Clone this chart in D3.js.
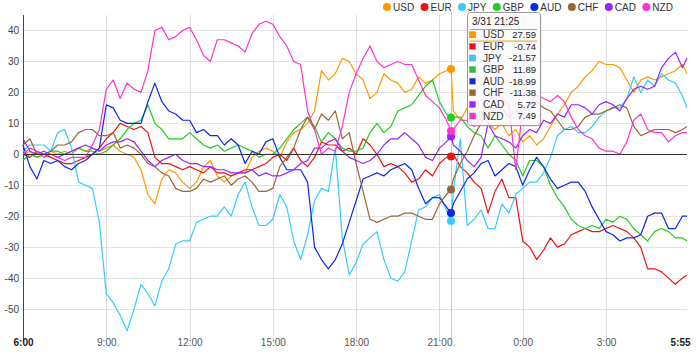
<!DOCTYPE html>
<html><head><meta charset="utf-8">
<script src="https://cdn.jsdelivr.net/npm/d3@7"></script>
<style>
body{margin:0;background:#fff;}
svg{display:block;font-family:"Liberation Sans",Arial,sans-serif;}
</style></head><body>
<svg id="c" width="700" height="356"></svg>
<script>
// ---------- data ----------
const currencies = ["USD","EUR","JPY","GBP","AUD","CHF","CAD","NZD"];
const colors = ["#ff9900","#ee1111","#33ccff","#22cc22","#0a28f0","#996633","#9922ff","#ff33cc"];
// minutes after 3/31 6:00 : every 15 min, plus the hovered 21:25 and the last 5:55
const minutes = [...d3.range(0, 925, 15), 925, ...d3.range(930, 1440, 15), 1435];
const hoverMinute = 925;

const USD = [0,1,-1,0,1,0,1,0,2,1, 2,1,2,3,1,0,-1,-5,-13,-16, -8,-5,-6,-9,-11,-9,-4,-2,-7,-9,
  -7,-6,-6,-1,1,2,1,-1,4,7, 8,10,14,27,24,26,31,30,26,24, 18,20,26,24,23,20,21,25,23,24, 26,27,
  27.59,
  14,11,15,12,14,10,8,10,6,8, 4,6,3,5,9,13,16,20,22,25, 27,30,29,29,28,24,20,24,25,24, 25,26,27,29, 26];
const EUR = [0,-1,1,0,-1,-2,-3,-3,-2,-1, 0,2,5,7,10,9,8,9,7,-1, -3,-3,-4,-5,-4,-5,-6,-4,-6,-6,
  -7,-6,-5,-5,-4,-3,-1,0,-2,2, -2,-4,-1,4,3,3,1,2,0,5, 3,0,-4,-3,-4,-6,-9,-8,-5,-7, -3,-1,
  -0.74,
  0,-4,-6,-9,-11,-19,-12,-8,-14,-14, -28,-30,-34,-31,-27,-30,-29,-26,-25,-24, -25,-25,-24,-23,-24,-25,-27,-30,-37,-37, -38,-40,-42,-40, -39];
const JPY = [1,3,3,3,1,7,8,2,-9,-10, -11,-22,-45,-48,-52,-57,-50,-42,-45,-49, -41,-37,-29,-28,-28,-22,-21,-20,-20,-17,
  -20,-13,-9,-17,-23,-23,-21,-13,-17,-28, -34,-26,-15,-11,-12,2,-27,-39,-35,-29, -27,-25,-34,-40,-41,-38,-28,-18,-17,-14, -13,-18,
  -21.57,
  -12,5,-23,-21,-18,-24,-24,-16,-19,-13, -11,-9,-9,-6,-1,6,8,9,7,7, 9,12,14,15,15,18,25,20,24,22, 26,24,23,19, 15];
const GBP = [-2,0,-1,0,1,1,0,1,2,1, 1,0,1,3,5,8,10,11,16,10, 8,5,5,5,7,5,3,2,3,1,
  2,3,2,1,-1,0,0,2,5,8, 10,12,9,4,7,5,2,1,1,2, 7,10,7,9,14,15,16,19,22,24, 17,13,
  11.89,
  12,12,9,7,6,2,6,3,0,-2, -7,-2,-2,-4,-10,-14,-17,-21,-23,-24, -23,-24,-21,-22,-20,-21,-24,-26,-28,-25, -24,-25,-27,-27, -28];
const AUD = [3,-4,-8,-2,-3,-2,-4,-5,-3,-2, 0,2,16,15,11,10,10,10,17,23, 17,14,13,11,11,7,8,6,6,3,
  5,3,-3,1,0,4,5,-1,-5,-5, -5,-9,-30,-34,-37,-34,-29,-22,-15,-8, -7,-6,-7,-5,-4,-3,-5,-11,-16,-14, -14,-17,
  -18.99,
  -16,-12,-8,-6,-3,-2,-7,-5,-3,-4, -10,-5,-1,-4,-8,-11,-10,-9,-9,-12, -17,-21,-25,-26,-28,-27,-27,-26,-20,-19, -19,-24,-24,-20, -20];
const CHF = [3,5,0,0,1,3,3,4,7,8, 8,6,6,7,2,3,2,0,-3,-4, -6,-7,-11,-12,-12,-11,-8,-9,-8,-7,
  -10,-8,-7,-9,-12,-12,-11,-4,-1,2, 8,12,8,13,11,14,5,7,-3,-12, -21,-22,-21,-20,-20,-19,-19,-20,-21,-21, -16,-13,
  -11.38,
  -8,-3,1,6,10,13,13,15,12,14, 13,16,17,15,14,11,8,8,9,12, 13,13,14,15,16,15,9,6,7,8, 8,8,7,8, 9];
const CAD = [5,1,0,1,0,-1,0,1,2,3, 2,1,3,4,4,5,4,1,-2,-4, -2,-1,0,-2,-3,-3,-4,-4,-5,-5,
  -6,-6,-6,-5,-7,-6,-7,-7,-6,-5, -3,-2,2,2,4,5,1,-1,-2,-3, -2,0,3,5,5,7,5,3,-1,-2, 2,4,
  5.72,
  3,1,-2,-4,-1,10,6,5,4,2, 6,8,7,11,10,13,12,16,16,15, 13,16,17,16,14,18,21,22,21,22, 28,31,33,28, 31];
const NZD = [0,2,1,-1,0,-1,-2,-1,-1,-1, 3,8,21,24,18,23,21,20,27,40, 41,37,38,40,41,37,32,30,37,37,
  36,35,33,39,42,43,42,38,35,30, 29,14,8,0,2,1,9,20,26,31, 35,30,28,29,30,29,29,24,19,17, 15,11,
  7.49,
  8,11,11,9,12,17,19,18,16,-5, 15,17,19,18,17,19,17,12,8,6, 5,2,1,1,0,4,11,13,8,7, 7,4,6,7, 7];

const seriesValues = [USD, EUR, JPY, GBP, AUD, CHF, CAD, NZD];
const yTickValues = [40,30,20,10,0,-10,-20,-30,-40,-50];
const xTickMinutes = [0,180,360,540,720,900,1080,1260,1435];
const xTickLabels = ["6:00","9:00","12:00","15:00","18:00","21:00","0:00","3:00","5:55"];

// ---------- chart ----------
const start = new Date(2016, 2, 31, 6, 0);
const toDate = m => new Date(start.getTime() + m * 60000);
const times = minutes.map(toDate);
const hoverIdx = minutes.indexOf(hoverMinute);

const svg = d3.select("#c");
const L = 23, R = 687, T = 15, B = 340;
const x = d3.scaleTime().domain([times[0], times[times.length - 1]]).range([L, R]);
const y = d3.scaleLinear().domain([-60, 45]).range([B, T]);

// grid
const grid = svg.append("g");
grid.selectAll("line.h").data(yTickValues.filter(v => v !== 0)).join("line")
  .attr("x1", L).attr("x2", R).attr("y1", d => Math.round(y(d)) + 0.5).attr("y2", d => Math.round(y(d)) + 0.5)
  .attr("stroke", "#e3e3e3").attr("stroke-width", 1);
grid.selectAll("line.v").data(xTickMinutes.slice(1, -1)).join("line")
  .attr("x1", d => Math.round(x(toDate(d)))+0.5).attr("x2", d => Math.round(x(toDate(d)))+0.5)
  .attr("y1", T).attr("y2", B)
  .attr("stroke", "#dcdcdc").attr("stroke-width", 1);

// hover line
svg.append("line")
  .attr("x1", Math.round(x(times[hoverIdx]))+0.5).attr("x2", Math.round(x(times[hoverIdx]))+0.5)
  .attr("y1", T - 3).attr("y2", B)
  .attr("stroke", "#c8c8c8").attr("stroke-width", 1);

// y axis
const yAxis = d3.axisLeft(y).tickValues(yTickValues).tickSize(0).tickPadding(4).tickFormat(d => String(d));
const gy = svg.append("g").attr("transform", `translate(${L},0)`).call(yAxis);
gy.select(".domain").remove();
gy.selectAll("text").attr("font-size", 10).attr("fill", "#444")
  .attr("font-family", '"Liberation Sans",Arial,sans-serif');
svg.append("line").attr("x1", L + 0.5).attr("x2", L + 0.5).attr("y1", T).attr("y2", B + 2)
  .attr("stroke", "#444").attr("stroke-width", 1);

// x axis
const xAxis = d3.axisBottom(x).tickValues(xTickMinutes.map(toDate))
  .tickFormat((d, i) => xTickLabels[i]).tickSize(0).tickPadding(-1);
const gx = svg.append("g").attr("transform", `translate(0,${B})`).call(xAxis);
gx.select(".domain").remove();
const lastTick = xTickLabels.length - 1;
gx.selectAll("text").attr("font-size", 10)
  .attr("font-family", '"Liberation Sans",Arial,sans-serif')
  .attr("font-weight", (d, i) => (i === 0 || i === lastTick) ? "bold" : "normal")
  .attr("fill", (d, i) => (i === 0 || i === lastTick) ? "#222" : "#555")
  .attr("text-anchor", (d, i) => i === lastTick ? "end" : "middle")
  .attr("dx", (d, i) => i === lastTick ? 3 : 0);

// lines
const line = d3.line().x((d, i) => x(times[i])).y(d => y(d));
svg.append("g").selectAll("path").data(seriesValues).join("path")
  .attr("d", d => line(d)).attr("fill", "none")
  .attr("stroke", (d, i) => colors[i]).attr("stroke-width", 1.2)
  .attr("stroke-linejoin", "round");

// zero line
svg.append("line").attr("x1", L).attr("x2", R).attr("y1", Math.round(y(0))+0.5).attr("y2", Math.round(y(0))+0.5)
  .attr("stroke", "#333").attr("stroke-width", 1);

// hover dots
svg.append("g").selectAll("circle").data(seriesValues).join("circle")
  .attr("cx", x(times[hoverIdx])).attr("cy", d => y(d[hoverIdx])).attr("r", 4)
  .attr("fill", (d, i) => colors[i]);

// tooltip
const tipX = 467, tipY = 12, tipW = 73, rowH = 11.6;
const tip = svg.append("g");
tip.append("rect").attr("x", tipX + 1.5).attr("y", tipY + 1.5).attr("width", tipW).attr("height", 113)
  .attr("rx", 3).attr("fill", "rgba(0,0,0,0.12)");
tip.append("rect").attr("x", tipX + 0.5).attr("y", tipY + 0.5).attr("width", tipW).attr("height", 113)
  .attr("rx", 3).attr("fill", "rgba(255,255,255,0.86)").attr("stroke", "#999");
tip.append("text").attr("x", tipX + 5).attr("y", tipY + 13).attr("font-size", 10).attr("fill", "#222")
  .text(d3.timeFormat("%-m/%-d %H:%M")(times[hoverIdx]));
const rowsTop = tipY + 17;
[0, 1].forEach(k => tip.append("line").attr("x1", tipX + 3).attr("x2", tipX + tipW - 3)
  .attr("y1", rowsTop + k * rowH + 0.5).attr("y2", rowsTop + k * rowH + 0.5)
  .attr("stroke", colors[0]).attr("stroke-width", 1));
const rows = tip.selectAll("g.row").data(currencies).join("g")
  .attr("transform", (d, i) => `translate(0,${rowsTop + i * rowH + rowH / 2})`);
rows.append("rect").attr("x", tipX + 2.5).attr("y", -3).attr("width", 6).attr("height", 6)
  .attr("fill", (d, i) => colors[i]).attr("stroke", "#888").attr("stroke-width", 0.5);
rows.append("text").attr("x", tipX + 16).attr("dy", "0.35em").attr("font-size", 10).attr("fill", "#333")
  .text(d => d);
rows.append("text").attr("x", tipX + tipW - 4).attr("dy", "0.35em").attr("font-size", 9.5)
  .attr("text-anchor", "end").attr("fill", "#222")
  .text((d, i) => seriesValues[i][hoverIdx].toFixed(2));

// legend
const leg = svg.append("g").attr("transform", "translate(387,7)");
let lx = 0;
currencies.forEach((c, i) => {
  const g = leg.append("g").attr("transform", `translate(${lx},0)`);
  g.append("circle").attr("r", 4).attr("fill", colors[i]);
  const t = g.append("text").attr("x", 6).attr("dy", "0.35em").attr("font-size", 10).attr("fill", "#333").text(c);
  lx += t.node().getComputedTextLength() + 16.4;
});
</script>
</body></html>
